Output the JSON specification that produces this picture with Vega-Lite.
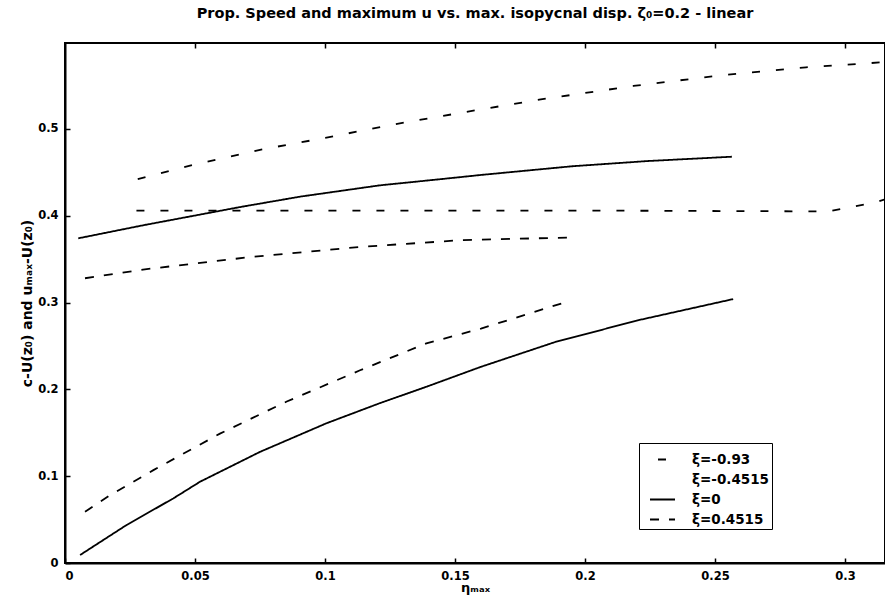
{
  "$schema": "https://vega.github.io/schema/vega-lite/v6.json",
  "width": 820,
  "height": 520,
  "autosize": {"type": "none"},
  "padding": {"left": 65, "top": 43, "right": 0, "bottom": 38},
  "background": "white",
  "title": {
    "text": "Prop. Speed and maximum u vs. max. isopycnal disp. ζ₀=0.2 - linear",
    "fontSize": 14.5,
    "font": "DejaVu Sans",
    "fontWeight": "bold",
    "color": "black",
    "offset": 21,
    "anchor": "middle"
  },
  "config": {
    "view": {"stroke": "black", "strokeWidth": 2},
    "axis": {
      "grid": false,
      "domainColor": "black",
      "domainWidth": 2,
      "tickColor": "black",
      "tickWidth": 1.5,
      "tickSize": -5,
      "labelFont": "DejaVu Sans",
      "labelFontWeight": "bold",
      "labelFontSize": 11.5,
      "labelColor": "black",
      "titleFont": "DejaVu Sans",
      "titleFontWeight": "bold",
      "titleFontSize": 13,
      "titleColor": "black"
    }
  },
  "data": {
    "values": [
      {"xi": "ξ=0", "curve": "a", "eta": 0.0051, "u": 0.374},
      {"xi": "ξ=0", "curve": "a", "eta": 0.030, "u": 0.389},
      {"xi": "ξ=0", "curve": "a", "eta": 0.0673, "u": 0.410},
      {"xi": "ξ=0", "curve": "a", "eta": 0.0904, "u": 0.422},
      {"xi": "ξ=0", "curve": "a", "eta": 0.121, "u": 0.435},
      {"xi": "ξ=0", "curve": "a", "eta": 0.144, "u": 0.442},
      {"xi": "ξ=0", "curve": "a", "eta": 0.160, "u": 0.447},
      {"xi": "ξ=0", "curve": "a", "eta": 0.195, "u": 0.457},
      {"xi": "ξ=0", "curve": "a", "eta": 0.224, "u": 0.463},
      {"xi": "ξ=0", "curve": "a", "eta": 0.2565, "u": 0.468},

      {"xi": "ξ=0", "curve": "b", "eta": 0.0058, "u": 0.0092},
      {"xi": "ξ=0", "curve": "b", "eta": 0.0237, "u": 0.0438},
      {"xi": "ξ=0", "curve": "b", "eta": 0.0417, "u": 0.0745},
      {"xi": "ξ=0", "curve": "b", "eta": 0.052, "u": 0.0937},
      {"xi": "ξ=0", "curve": "b", "eta": 0.075, "u": 0.128},
      {"xi": "ξ=0", "curve": "b", "eta": 0.1006, "u": 0.161},
      {"xi": "ξ=0", "curve": "b", "eta": 0.121, "u": 0.184},
      {"xi": "ξ=0", "curve": "b", "eta": 0.139, "u": 0.203},
      {"xi": "ξ=0", "curve": "b", "eta": 0.160, "u": 0.226},
      {"xi": "ξ=0", "curve": "b", "eta": 0.189, "u": 0.255},
      {"xi": "ξ=0", "curve": "b", "eta": 0.221, "u": 0.280},
      {"xi": "ξ=0", "curve": "b", "eta": 0.257, "u": 0.304},

      {"xi": "ξ=0.4515", "curve": "a", "eta": 0.0077, "u": 0.328},
      {"xi": "ξ=0.4515", "curve": "a", "eta": 0.030, "u": 0.338},
      {"xi": "ξ=0.4515", "curve": "a", "eta": 0.070, "u": 0.352},
      {"xi": "ξ=0.4515", "curve": "a", "eta": 0.113, "u": 0.364},
      {"xi": "ξ=0.4515", "curve": "a", "eta": 0.153, "u": 0.372},
      {"xi": "ξ=0.4515", "curve": "a", "eta": 0.1955, "u": 0.375},

      {"xi": "ξ=0.4515", "curve": "b", "eta": 0.0077, "u": 0.059},
      {"xi": "ξ=0.4515", "curve": "b", "eta": 0.0173, "u": 0.078},
      {"xi": "ξ=0.4515", "curve": "b", "eta": 0.034, "u": 0.107},
      {"xi": "ξ=0.4515", "curve": "b", "eta": 0.0596, "u": 0.149},
      {"xi": "ξ=0.4515", "curve": "b", "eta": 0.0853, "u": 0.186},
      {"xi": "ξ=0.4515", "curve": "b", "eta": 0.1135, "u": 0.222},
      {"xi": "ξ=0.4515", "curve": "b", "eta": 0.139, "u": 0.253},
      {"xi": "ξ=0.4515", "curve": "b", "eta": 0.160, "u": 0.270},
      {"xi": "ξ=0.4515", "curve": "b", "eta": 0.191, "u": 0.299},

      {"xi": "ξ=-0.93", "curve": "a", "eta": 0.025, "u": 0.440},
      {"xi": "ξ=-0.93", "curve": "a", "eta": 0.049, "u": 0.4585},
      {"xi": "ξ=-0.93", "curve": "a", "eta": 0.075, "u": 0.476},
      {"xi": "ξ=-0.93", "curve": "a", "eta": 0.1006, "u": 0.490},
      {"xi": "ξ=-0.93", "curve": "a", "eta": 0.126, "u": 0.505},
      {"xi": "ξ=-0.93", "curve": "a", "eta": 0.155, "u": 0.520},
      {"xi": "ξ=-0.93", "curve": "a", "eta": 0.183, "u": 0.534},
      {"xi": "ξ=-0.93", "curve": "a", "eta": 0.2186, "u": 0.5495},
      {"xi": "ξ=-0.93", "curve": "a", "eta": 0.253, "u": 0.562},
      {"xi": "ξ=-0.93", "curve": "a", "eta": 0.285, "u": 0.571},
      {"xi": "ξ=-0.93", "curve": "a", "eta": 0.3154, "u": 0.577},

      {"xi": "ξ=-0.93", "curve": "b", "eta": 0.0244, "u": 0.406},
      {"xi": "ξ=-0.93", "curve": "b", "eta": 0.100, "u": 0.406},
      {"xi": "ξ=-0.93", "curve": "b", "eta": 0.200, "u": 0.406},
      {"xi": "ξ=-0.93", "curve": "b", "eta": 0.2936, "u": 0.405},
      {"xi": "ξ=-0.93", "curve": "b", "eta": 0.302, "u": 0.410},
      {"xi": "ξ=-0.93", "curve": "b", "eta": 0.3115, "u": 0.415},
      {"xi": "ξ=-0.93", "curve": "b", "eta": 0.3154, "u": 0.419}
    ]
  },
  "resolve": {"axis": {"x": "independent", "y": "independent"}},
  "layer": [
    {
      "mark": {"type": "line", "color": "black", "strokeWidth": 1.8, "clip": true},
      "encoding": {
        "x": {
          "field": "eta",
          "type": "quantitative",
          "scale": {"domain": [0, 0.3154], "nice": false, "zero": false},
          "axis": {
            "values": [0, 0.05, 0.1, 0.15, 0.2, 0.25, 0.3],
            "format": ".2~f",
            "title": "ηₘₐₓ",
            "labelPadding": 12,
            "titlePadding": 0
          }
        },
        "y": {
          "field": "u",
          "type": "quantitative",
          "scale": {"domain": [0, 0.599], "nice": false, "zero": false},
          "axis": {
            "values": [0, 0.1, 0.2, 0.3, 0.4, 0.5],
            "format": ".1~f",
            "title": "c-U(z₀) and uₘₐₓ-U(z₀)",
            "titleFontSize": 14,
            "labelPadding": 12,
            "titlePadding": 3
          }
        },
        "detail": {"field": "curve"},
        "strokeDash": {
          "field": "xi",
          "type": "nominal",
          "scale": {
            "domain": ["ξ=-0.93", "ξ=-0.4515", "ξ=0", "ξ=0.4515"],
            "range": [[0, 8, 8, 8], [0, 1000], [1, 0], [9, 10]]
          },
          "legend": {
            "title": null,
            "orient": "none",
            "legendX": 574,
            "legendY": 400,
            "strokeColor": "black",
            "fillColor": "white",
            "padding": 3,
            "symbolType": "stroke",
            "symbolSize": 625,
            "symbolOffset": 7,
            "symbolStrokeWidth": 1.8,
            "symbolStrokeColor": "black",
            "labelFont": "DejaVu Sans",
            "labelFontWeight": "bold",
            "labelFontSize": 13.5,
            "labelColor": "black",
            "labelOffset": 16,
            "rowPadding": -6
          }
        }
      }
    },
    {
      "mark": {"type": "line", "strokeOpacity": 0},
      "encoding": {
        "x": {
          "field": "eta",
          "type": "quantitative",
          "scale": {"domain": [0, 0.3154], "nice": false, "zero": false},
          "axis": {
            "orient": "top",
            "values": [0.05, 0.1, 0.15, 0.2, 0.25, 0.3],
            "labels": false,
            "title": null,
            "domain": false
          }
        },
        "y": {"field": "u", "type": "quantitative", "axis": null},
        "detail": {"field": "curve"}
      }
    }
  ]
}
